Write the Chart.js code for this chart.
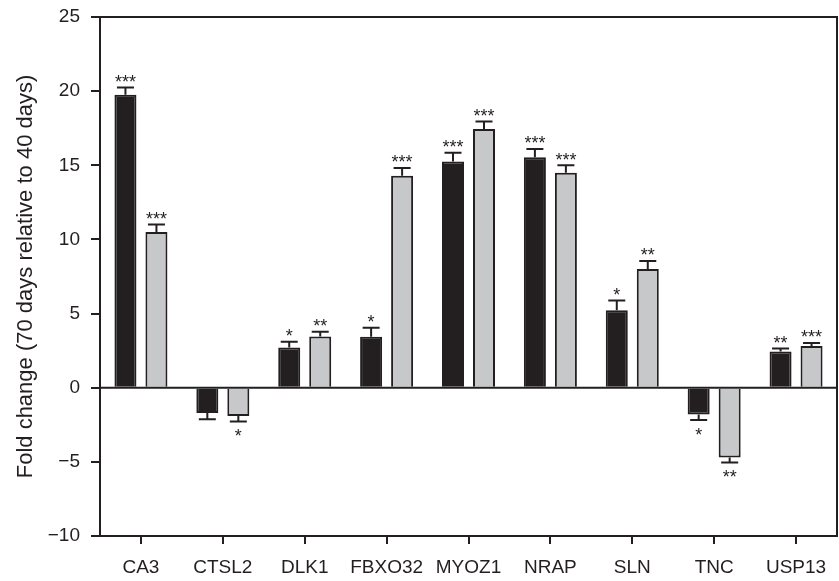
<!DOCTYPE html>
<html>
<head>
<meta charset="utf-8">
<style>
  html, body { margin: 0; padding: 0; background: #ffffff; }
  #wrap { width: 839px; height: 581px; }
</style>
<script src="https://cdn.jsdelivr.net/npm/chart.js@4/dist/chart.umd.min.js"></script>
</head>
<body>
<div id="wrap"><canvas id="chart" width="839" height="581"></canvas></div>
<script>
// Genes on the x axis
const categories = ['CA3', 'CTSL2', 'DLK1', 'FBXO32', 'MYOZ1', 'NRAP', 'SLN', 'TNC', 'USP13'];

// Dark bars: fold change and error
const darkValues = [19.75, -1.7, 2.72, 3.43, 15.25, 15.55, 5.23, -1.8, 2.45];
const darkErrors = [0.5, 0.43, 0.38, 0.62, 0.6, 0.55, 0.65, 0.38, 0.2];
const darkStars  = ['***', '', '*', '*', '***', '***', '*', '*', '**'];

// Light bars: fold change and error
const lightValues = [10.5, -1.9, 3.45, 14.3, 17.45, 14.5, 8.0, -4.7, 2.82];
const lightErrors = [0.5, 0.38, 0.33, 0.52, 0.5, 0.5, 0.55, 0.34, 0.2];
const lightStars  = ['***', '*', '**', '***', '***', '***', '**', '**', '***'];

// Y axis tick values
const yTicks = [-10, -5, 0, 5, 10, 15, 20, 25];

const INK = '#231f20';
const FONT = '"Liberation Sans", Arial, Helvetica, sans-serif';

// Error bars, significance stars, zero line and the top/right frame
const decorations = {
  id: 'decorations',
  afterDatasetsDraw(chart) {
    const ctx = chart.ctx;
    const area = chart.chartArea;
    const y = chart.scales.y;
    ctx.save();
    ctx.strokeStyle = INK;
    ctx.lineWidth = 2;

    // zero line
    const y0 = y.getPixelForValue(0);
    ctx.beginPath();
    ctx.moveTo(area.left, y0);
    ctx.lineTo(area.right, y0);
    ctx.stroke();

    // top and right frame
    ctx.beginPath();
    ctx.moveTo(area.left, area.top);
    ctx.lineTo(area.right, area.top);
    ctx.lineTo(area.right, area.bottom);
    ctx.stroke();

    const sets = [
      { values: darkValues, errors: darkErrors, stars: darkStars },
      { values: lightValues, errors: lightErrors, stars: lightStars }
    ];
    ctx.font = '18px ' + FONT;
    ctx.fillStyle = INK;
    ctx.textAlign = 'center';
    ctx.textBaseline = 'alphabetic';
    sets.forEach((s, di) => {
      const meta = chart.getDatasetMeta(di);
      meta.data.forEach((bar, i) => {
        const v = s.values[i];
        const sign = v >= 0 ? 1 : -1;
        const yEnd = y.getPixelForValue(v);
        const yCap = y.getPixelForValue(v + sign * s.errors[i]);
        const x = bar.x;
        ctx.beginPath();
        ctx.moveTo(x, yEnd);
        ctx.lineTo(x, yCap);
        ctx.moveTo(x - 8.5, yCap);
        ctx.lineTo(x + 8.5, yCap);
        ctx.stroke();
        if (s.stars[i]) {
          const cy = yCap - sign * 10;
          ctx.fillText(s.stars[i], x, cy + 10.5);
        }
      });
    });
    ctx.restore();
  }
};

new Chart(document.getElementById('chart'), {
  type: 'bar',
  data: {
    labels: categories,
    datasets: [
      {
        data: darkValues,
        backgroundColor: INK,
        borderColor: INK,
        borderWidth: 2,
        barPercentage: 0.71,
        categoryPercentage: 0.757
      },
      {
        data: lightValues,
        backgroundColor: '#c7c8ca',
        borderColor: INK,
        borderWidth: 2,
        barPercentage: 0.71,
        categoryPercentage: 0.757
      }
    ]
  },
  options: {
    responsive: false,
    animation: false,
    devicePixelRatio: 1,
    layout: { padding: { top: 17, right: 2, left: 0, bottom: 0 } },
    plugins: {
      legend: { display: false },
      tooltip: { enabled: false }
    },
    scales: {
      x: {
        afterFit(scale) { scale.height = 45; },
        grid: {
          offset: false,
          drawOnChartArea: false,
          tickLength: 8,
          tickColor: INK,
          lineWidth: 2
        },
        border: { display: true, color: INK, width: 2 },
        ticks: {
          color: INK,
          padding: 12,
          font: { family: FONT, size: 19 },
          maxRotation: 0,
          autoSkip: false
        }
      },
      y: {
        min: -10,
        max: 25,
        afterFit(scale) {
          scale.width = 100;
          scale.paddingTop = 0;
          scale.paddingBottom = 0;
        },
        afterBuildTicks(scale) { scale.ticks = yTicks.map(v => ({ value: v })); },
        grid: {
          drawOnChartArea: false,
          tickLength: 9,
          tickColor: INK,
          lineWidth: 2
        },
        border: { display: true, color: INK, width: 2 },
        ticks: {
          color: INK,
          padding: 11,
          font: { family: FONT, size: 19 },
          callback: v => (v < 0 ? '\u2212' + Math.abs(v) : String(v))
        },
        title: {
          display: true,
          text: 'Fold change (70 days relative to 40 days)',
          color: INK,
          font: { family: FONT, size: 22 },
          padding: { top: 13, bottom: 0 }
        }
      }
    }
  },
  plugins: [decorations]
});
</script>
</body>
</html>
